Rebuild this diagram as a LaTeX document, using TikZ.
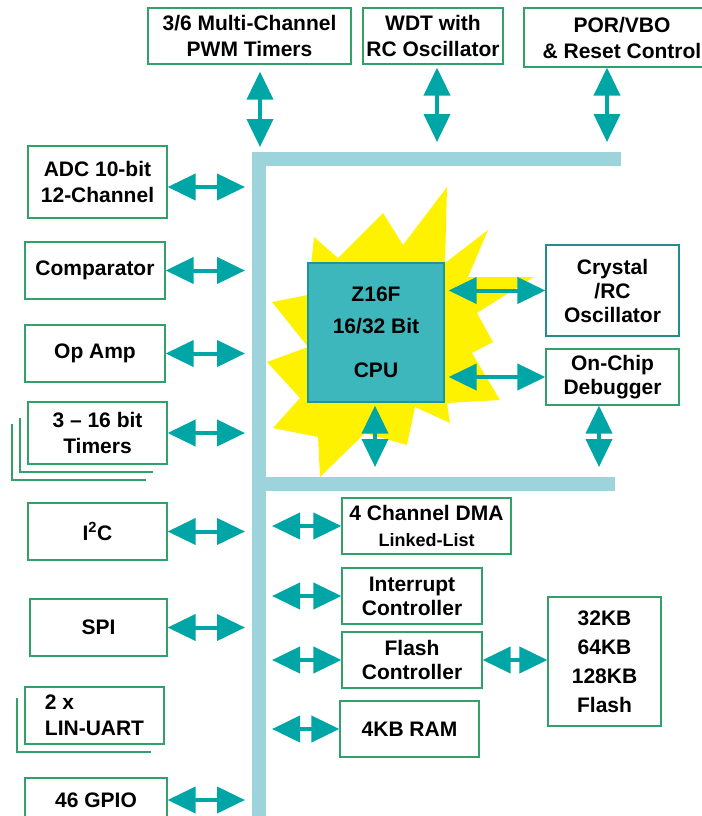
\documentclass[tikz,border=0pt]{standalone}
\usepackage{fontspec}
\setmainfont{Liberation Sans}
\usetikzlibrary{arrows.meta,positioning}
\definecolor{busblue}{RGB}{157,211,218}
\definecolor{arrteal}{RGB}{0,165,165}
\definecolor{boxgreen}{RGB}{50,160,105}
\definecolor{cputeal}{RGB}{61,183,188}
\definecolor{cpuedge}{RGB}{30,150,150}
\definecolor{oscedge}{RGB}{35,140,140}
\tikzset{
  blk/.style={draw=boxgreen,line width=1.2pt,fill=white,inner sep=0pt,align=center,
    font=\bfseries\fontsize{21}{26}\selectfont},
  bidir/.style={draw=arrteal,line width=4pt,
    {Triangle[length=28pt,width=26pt]}-{Triangle[length=28pt,width=26pt]}},
  shad/.style={draw=boxgreen,line width=1.2pt},
}

\begin{document}
\begin{tikzpicture}[x=1pt,y=-1pt]
  \useasboundingbox (0,0) rectangle (701,816);
  % starburst behind the CPU
  \fill[yellow] (447,187) -- (445,263) -- (488,230) -- (468,277) -- (534,277)
    -- (477,313) -- (493,342) -- (472,353) -- (500,400) -- (447,403)
    -- (450,423) -- (415,407) -- (407,445) -- (365,433) -- (320,477)
    -- (318,437) -- (273,428) -- (300,398) -- (267,362) -- (308,347)
    -- (272,302) -- (308,295) -- (314,237) -- (338,258) -- (383,213)
    -- (403,245) -- cycle;
  % bus
  \fill[busblue] (252,152) rectangle (266,830);
  \fill[busblue] (252,152) rectangle (621,166);
  \fill[busblue] (252,477) rectangle (615,491);

  \node[blk,minimum width=203pt,minimum height=56pt] (pwm) at (249.5,36) {3/6 Multi-Channel\\PWM Timers};
  \node[blk,minimum width=140pt,minimum height=56pt] (wdt) at (433,36) {WDT with\\RC Oscillator};
  \node[blk,minimum width=196pt,minimum height=59pt] (por) at (622,37.5) {POR/VBO\\\& Reset Control};

  \node[blk,minimum width=139pt,minimum height=72pt] (adc) at (97.5,182) {ADC 10-bit\\12-Channel};
  \node[blk,minimum width=140pt,minimum height=57pt] (cmp) at (95,270.5) {Comparator};
  \node[blk,minimum width=140pt,minimum height=57pt] (opamp) at (95,353.5) {Op Amp};
  \draw[shad] (97.5,433) ++(-77.5,-15) |- (153,472);
  \draw[shad] (97.5,433) ++(-85.5,-9) |- (146,480);
  \node[blk,minimum width=139pt,minimum height=62pt] (tmr) at (97.5,433) {3 -- 16 bit\\Timers};
  \node[blk,minimum width=139pt,minimum height=57pt] (iic) at (97.5,531.5) {I\textsuperscript{2}C};
  \node[blk,minimum width=137pt,minimum height=57pt] (spi) at (98.5,627.5) {SPI};
  \draw[shad] (94.5,715.5) ++(-77.5,-17.5) |- (151,752);
  \node[blk,minimum width=139pt,minimum height=57pt,align=left] (uart) at (94.5,715.5) {2 x\\LIN-UART};
  \node[blk,minimum width=142pt,minimum height=44pt] (gpio) at (96,800) {46 GPIO};

  \node[blk,fill=cputeal,draw=cpuedge,minimum width=136pt,minimum height=139pt,
    font=\bfseries\fontsize{21}{32}\selectfont] (cpu) at (376,332.5) {Z16F\\16/32 Bit\\[12pt]CPU};
  \node[blk,draw=oscedge,minimum width=133pt,minimum height=91pt,
    font=\bfseries\fontsize{21}{24}\selectfont] (osc) at (612.5,290.5) {Crystal\\/RC\\Oscillator};
  \node[blk,minimum width=133pt,minimum height=56pt,
    font=\bfseries\fontsize{21}{24}\selectfont] (dbg) at (612.5,377) {On-Chip\\Debugger};

  \node[blk,minimum width=169pt,minimum height=56pt] (dma) at (426.5,526)
    {4 Channel DMA\\{\fontsize{18}{20}\selectfont Linked-List}};
  \node[blk,minimum width=140pt,minimum height=56pt,
    font=\bfseries\fontsize{21}{24}\selectfont] (intc) at (412,596) {Interrupt\\Controller};
  \node[blk,minimum width=140pt,minimum height=56pt,
    font=\bfseries\fontsize{21}{24}\selectfont] (flc) at (412,660) {Flash\\Controller};
  \node[blk,minimum width=139pt,minimum height=56pt] (ram) at (409.5,729) {4KB RAM};
  \node[blk,minimum width=113pt,minimum height=129pt,
    font=\bfseries\fontsize{21}{29}\selectfont] (flash) at (604.5,661.5) {32KB\\64KB\\128KB\\Flash};

  \coordinate (busL) at (245,0);
  \coordinate (busR) at (272,0);
  \coordinate (pwmA) at (260,147);
  \coordinate (wdtA) at (437,142);
  \coordinate (porA) at (607,142);
  \coordinate (cpuA) at (375,467);
  \coordinate (dbgA) at (599,467);

  \draw[bidir] ([yshift=-5pt]adc.east) -- ([yshift=-5pt]adc.east -| busL);
  \foreach \b in {cmp,opamp,tmr,iic,spi,gpio}
    \draw[bidir] (\b.east) -- (\b.east -| busL);
  \foreach \b in {dma,intc,flc,ram}
    \draw[bidir] (\b.west -| busR) -- (\b.west);
  \draw[bidir,shorten <=7pt] (pwmA |- pwm.south) -- (pwmA);
  \draw[bidir,shorten <=3pt] (wdtA |- wdt.south) -- (wdtA);
  \draw[bidir] (porA |- por.south) -- (porA);
  \draw[bidir,shorten <=4pt] (cpu.east |- osc.west) -- (osc.west);
  \draw[bidir,shorten <=4pt] (cpu.east |- dbg.west) -- (dbg.west);
  \draw[bidir,shorten <=3pt] (cpuA |- cpu.south) -- (cpuA);
  \draw[bidir] (dbgA |- dbg.south) -- (dbgA);
  \draw[bidir] (flc.east) -- (flc.east -| flash.west);
\end{tikzpicture}
\end{document}
